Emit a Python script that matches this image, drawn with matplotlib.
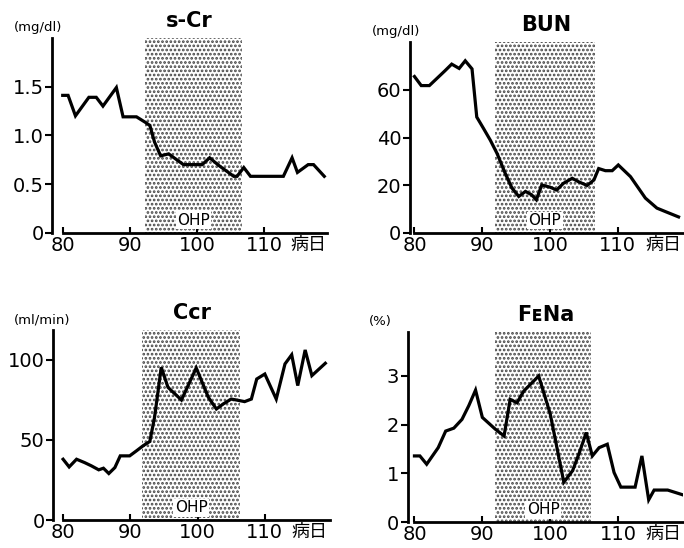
import matplotlib
matplotlib.use("Agg")
import matplotlib.pyplot as plt

# s-Cr (mg/dl)
scr_days = [80, 80.8, 81.9, 83.9, 85, 86, 88, 89, 91, 92.4, 93, 93.7, 94.6, 95.8, 96.8,
            98, 99.8, 100.8, 101.9, 103.3, 105.5, 106, 107, 108, 112.9, 114.2, 115,
            116.6, 117.4, 119]
scr_vals = [1.41, 1.41, 1.20, 1.39, 1.39, 1.30, 1.49, 1.19, 1.19, 1.13, 1.10, 0.93,
            0.79, 0.81, 0.76, 0.70, 0.70, 0.70, 0.77, 0.69, 0.58, 0.58, 0.67, 0.58,
            0.58, 0.77, 0.62, 0.70, 0.70, 0.58]

# BUN (mg/dl)
bun_days = [80, 81, 82.2, 83.5, 84.5, 85.5, 86.6, 87.5, 88.5, 89.2, 90.2, 91.2, 92.2,
            93.4, 94.4, 95.4, 96.4, 97.3, 98, 98.8, 100, 101, 102, 103.3, 104.2, 105.5,
            106.5, 107.2, 108.2, 109.2, 110.1, 111.9, 114.1, 115.8, 117, 119]
bun_vals = [65.6, 61.8, 61.8, 65.3, 68, 70.8, 69, 72.2, 68.8, 48.6, 43.8, 38.9, 33.3,
            25, 18.8, 15.3, 17.4, 16, 13.9, 20.1, 19.2, 18, 20.8, 22.9, 21.5, 19.9,
            22.2, 27, 26.1, 26.1, 28.5, 23.6, 14.6, 10.4, 9, 6.7]

# Ccr (ml/min)
ccr_days = [80, 80.9, 82, 83.2, 84.2, 85.3, 86, 86.8, 87.7, 88.5, 89.9, 90.9, 91.9,
            92.9, 93.6, 94.6, 95.6, 97.6, 99.8, 101.6, 102.8, 103.8, 105, 105.8, 107,
            108, 108.8, 110, 111.7, 113, 114, 114.9, 116, 117, 119]
ccr_vals = [37.9, 33.1, 37.9, 35.8, 33.8, 31.3, 32.3, 29, 32.7, 40, 40, 43.1, 46.3,
            49, 64, 95.2, 82.7, 74.8, 94.8, 76.5, 69.2, 72.3, 75.4, 74.8, 73.8, 75.4,
            87.9, 91, 75.4, 97.3, 103, 83.8, 106, 90, 97.7]

# FENa (%)
fena_days = [80, 80.8, 81.8, 83.5, 84.6, 85.8, 87, 88, 89, 90, 91.9, 93.2, 94.1, 95.1,
             96.1, 98.3, 100, 102, 103.3, 104.3, 105.3, 106.2, 107.2, 108.4, 109.4,
             110.4, 112.5, 113.5, 114.5, 115.3, 117.3, 119.8]
fena_vals = [1.36, 1.36, 1.19, 1.53, 1.87, 1.93, 2.11, 2.39, 2.71, 2.15, 1.91, 1.77,
             2.52, 2.45, 2.69, 3.0, 2.22, 0.82, 1.06, 1.43, 1.84, 1.36, 1.53, 1.6, 1.02,
             0.72, 0.72, 1.36, 0.46, 0.66, 0.66, 0.55]

panels = [
    # title, unit, days, values, yticks, yticklabels, ylim, xlim, ohp, rect
    ("s-Cr", "(mg/dl)", scr_days, scr_vals, [0, 0.5, 1.0, 1.5], ["0", "0.5", "1.0", "1.5"],
     2.0, (78.4, 119.4), (92.3, 106.7), [0.076, 0.575, 0.402, 0.356]),
    ("BUN", "(mg/dl)", bun_days, bun_vals, [0, 20, 40, 60], ["0", "20", "40", "60"],
     80, (79.3, 119.6), (91.9, 106.6), [0.599, 0.575, 0.399, 0.348]),
    ("Ccr", "(ml/min)", ccr_days, ccr_vals, [0, 50, 100], ["0", "50", "100"],
     118.5, (78.5, 119.7), (91.8, 106.3), [0.0775, 0.051, 0.405, 0.347]),
    ("F\u1D07Na", "(%)", fena_days, fena_vals, [0, 1, 2, 3], ["0", "1", "2", "3"],
     3.9, (79.0, 119.6), (91.9, 106.0), [0.596, 0.047, 0.403, 0.347]),
]

plt.rcParams["hatch.linewidth"] = 1.3
fig = plt.figure(figsize=(6.84, 5.48), dpi=100)

for title, unit, days, vals, yt, ytl, ytop, xl, ohp, rect in panels:
    ax = fig.add_axes(rect)
    ax.axvspan(ohp[0], ohp[1], ymin=0, ymax=1, facecolor="white", edgecolor="#444444",
               hatch="....", linewidth=0, zorder=1)
    ax.plot(days, vals, color="black", linewidth=2.3, solid_joinstyle="miter", zorder=3)
    ax.set_xlim(*xl)
    ax.set_ylim(0, ytop)
    ax.set_xticks([80, 90, 100, 110])
    ax.set_yticks(yt)
    ax.set_yticklabels(ytl)
    for s in ("top", "right"):
        ax.spines[s].set_visible(False)
    ax.spines["left"].set_linewidth(2.0)
    ax.spines["bottom"].set_linewidth(2.0)
    ax.spines["bottom"].set_bounds(80, xl[1])
    ax.tick_params(axis="x", direction="in", length=4, width=1.5, labelsize=14, pad=2)
    ax.tick_params(axis="y", direction="out", length=5, width=1.5, labelsize=14, pad=1)
    ax.set_title(title, fontsize=15, fontweight="bold", pad=8)
    ax.text(-0.14, 1.02, unit, transform=ax.transAxes, fontsize=9.5, ha="left", va="bottom")
    ax.text((ohp[0] + ohp[1]) / 2, 0.065, "OHP", transform=ax.get_xaxis_transform(),
            fontsize=11, ha="center", va="center", zorder=4,
            bbox=dict(facecolor="white", edgecolor="none", pad=1))
    ax.text(116.7, -0.015, "病日", transform=ax.get_xaxis_transform(), fontsize=13,
            ha="center", va="top", family=["Noto Sans CJK JP", "DejaVu Sans"])

fig.savefig("out.png", dpi=100)
